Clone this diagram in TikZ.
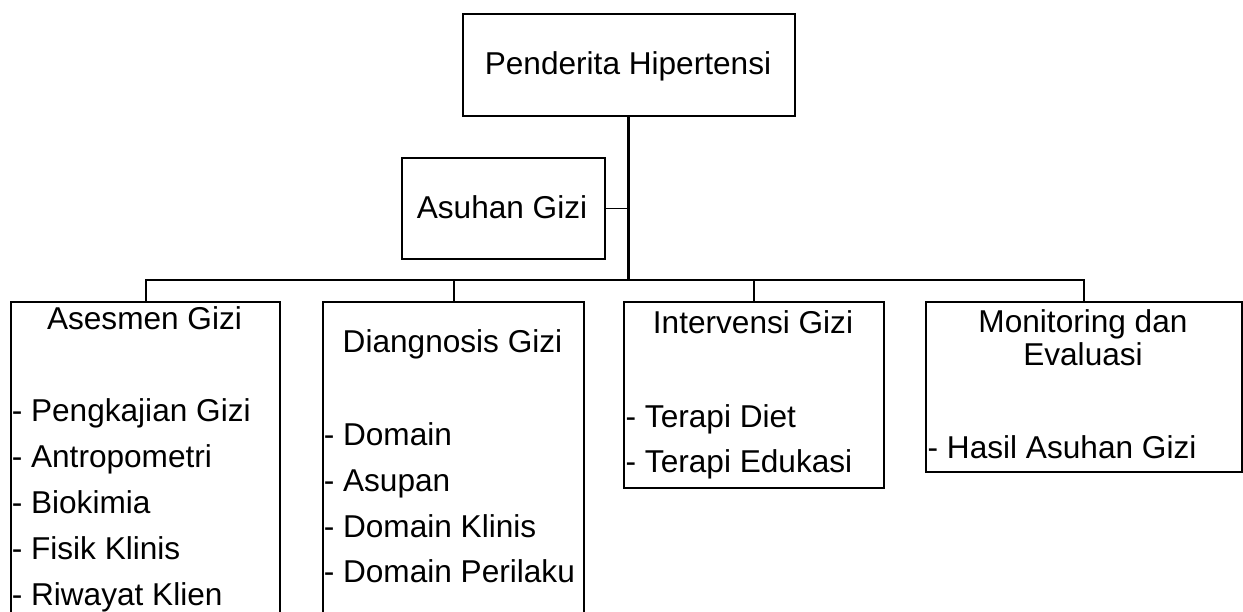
\documentclass[tikz,border=0pt]{standalone}
\usepackage{fontspec}
\setmainfont{Liberation Sans}
\begin{document}
\begin{tikzpicture}[x=1pt,y=-1pt,
  box/.style={draw=black, line width=2pt, rectangle, inner sep=0pt, anchor=north west},
  txt/.style={inner sep=0pt, anchor=base, font=\fontsize{31.6}{33}\selectfont},
  item/.style={inner sep=0pt, anchor=base west, font=\fontsize{31.6}{33}\selectfont},
  conn/.style={draw=black, line width=2pt},
  trunk/.style={draw=black, line width=3pt}]
\clip (0,0) rectangle (1243,611);
\fill[white] (0,0) rectangle (1243,611);
% boxes
\node[box, minimum width=332pt, minimum height=101.5pt] (top) at (462,13) {};
\node[box, minimum width=202.5pt, minimum height=101pt] (asuhan) at (401,157) {};
\node[box, minimum width=269pt, minimum height=330pt] (ases) at (10,301) {};
\node[box, minimum width=261pt, minimum height=330pt] (diag) at (322,301) {};
\node[box, minimum width=260pt, minimum height=186pt] (interv) at (623,301) {};
\node[box, minimum width=316pt, minimum height=170pt] (monit) at (925,301) {};
% connectors
\coordinate (bus) at (628,279.5);
\draw[trunk] (top.south -| bus) -- (bus);
\draw[conn, line width=1.5pt] (asuhan.east) -- (asuhan.east -| bus);
\draw[conn] (ases.north) |- (bus) -| (monit.north);
\draw[conn] (diag.north) -- (diag.north |- bus);
\draw[conn] (interv.north) -- (interv.north |- bus);
% texts
\node[txt] (t0) at (628,74) {Penderita Hipertensi};
\node[txt] (t1) at (502,218) {Asuhan Gizi};
\node[txt] (a0) at (144.5,329) {Asesmen Gizi};
\node[item] (a1) at (11.6,421.7) {- Pengkajian Gizi};
\node[item] (a2) at (11.6,467) {- Antropometri};
\node[item] (a3) at (11.6,513) {- Biokimia};
\node[item] (a4) at (11.6,559) {- Fisik Klinis};
\node[item] (a5) at (11.6,605) {- Riwayat Klien};
\node[txt] (d0) at (452.5,352) {Diangnosis Gizi};
\node[item] (d1) at (323.6,445) {- Domain};
\node[item] (d2) at (323.6,491) {- Asupan};
\node[item] (d3) at (323.6,537) {- Domain Klinis};
\node[item] (d4) at (323.6,582) {- Domain Perilaku};
\node[txt] (i0) at (753,333) {Intervensi Gizi};
\node[item] (i1) at (625.5,427) {- Terapi Diet};
\node[item] (i2) at (625.5,472) {- Terapi Edukasi};
\node[txt] (m0) at (1083,332) {Monitoring dan};
\node[txt] (m1) at (1083,365) {Evaluasi};
\node[item] (m2) at (927.5,458) {- Hasil Asuhan Gizi};
\end{tikzpicture}
\end{document}
